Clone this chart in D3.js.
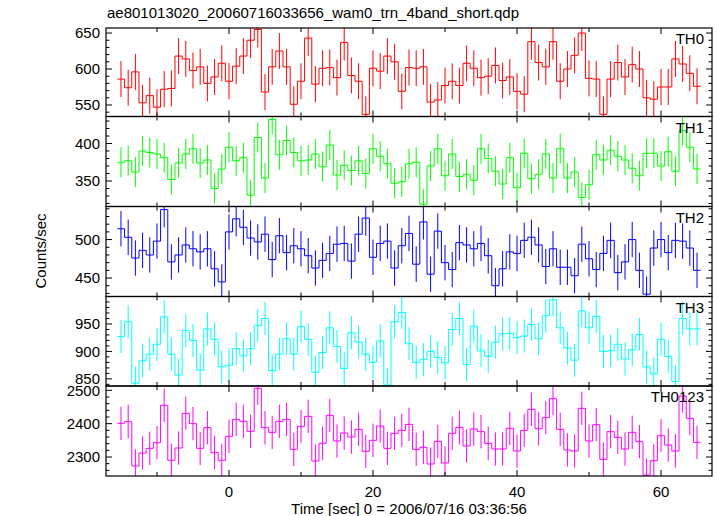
<!DOCTYPE html>
<html><head><meta charset="utf-8">
<script src="https://cdn.jsdelivr.net/npm/d3@7"></script>
<style>body{margin:0;background:#fff}svg{display:block}text{font-family:"Liberation Sans",Arial,Helvetica,sans-serif;fill:#000}</style>
</head><body><svg id="c" width="717" height="516"></svg>
<script>
// bin centre times (s), 1 s bins
const times = [-15,-14,-13,-12,-11,-10,-9,-8,-7,-6,-5,-4,-3,-2,-1,0,1,2,3,4,5,6,7,8,9,10,11,12,13,14,15,16,17,18,19,20,21,22,23,24,25,26,27,28,29,30,31,32,33,34,35,36,37,38,39,40,41,42,43,44,45,46,47,48,49,50,51,52,53,54,55,56,57,58,59,60,61,62,63,64,65];
const th0 = [586,574,596,553,563,547,572,573,618,614,
  598,603,580,589,608,583,604,618,640,655,
  568,603,625,603,551,583,643,579,601,602,
  588,637,591,583,537,601,597,618,610,569,
  602,601,603,554,557,577,583,577,608,601,
  588,590,605,584,589,569,565,638,609,603,
  638,583,600,619,650,587,586,537,586,609,
  589,606,600,560,558,575,575,614,607,594,
  576];
const th1 = [375,377,362,390,388,386,381,352,374,386,
  393,374,378,340,366,395,377,381,331,408,
  354,432,385,404,388,377,378,386,369,398,
  358,371,364,377,360,393,383,373,347,349,
  373,375,319,370,393,357,386,356,359,351,
  393,380,363,346,381,341,387,353,359,386,
  354,393,354,362,328,345,385,378,391,383,
  378,367,357,387,387,370,389,363,417,395,
  366];
const th2 = [514,503,476,486,480,498,539,471,480,493,
  488,484,488,462,445,510,527,516,502,497,
  507,474,505,483,492,488,479,463,473,482,
  494,495,472,507,528,477,495,498,463,492,
  508,468,523,455,511,470,461,496,493,488,
  495,479,440,462,484,482,499,503,493,465,
  488,464,464,453,494,475,461,482,499,457,
  471,500,460,429,489,500,483,499,498,489,
  460];
const th3 = [927,954,842,883,895,913,963,895,857,938,
  920,866,941,922,872,875,905,892,905,947,
  960,865,895,923,895,945,922,862,898,943,
  909,869,934,917,895,880,919,839,954,971,
  914,880,885,900,889,879,940,960,876,946,
  901,891,917,932,933,925,928,949,923,965,
  994,943,906,884,974,943,964,900,901,913,
  886,903,931,872,859,922,891,845,960,941,
  941];
const th0123 = [2401,2406,2273,2312,2326,2343,2455,2290,2327,2431,
  2400,2326,2388,2313,2290,2362,2413,2407,2377,2506,
  2388,2374,2407,2413,2323,2392,2422,2288,2341,2425,
  2348,2372,2360,2383,2317,2350,2393,2326,2371,2380,
  2398,2323,2329,2279,2347,2282,2371,2389,2333,2384,
  2376,2341,2324,2324,2386,2318,2380,2443,2385,2418,
  2475,2383,2321,2318,2446,2348,2397,2293,2376,2359,
  2324,2374,2346,2246,2289,2364,2336,2318,2483,2416,
  2344];
const bandNames = ["TH0","TH1","TH2","TH3","TH0123"];
const bandErrors = [25,20,23,30,50];
const yDomains = [[534,657],[316,436],[426,543],[837,1000],[2243,2513]];
const yTickLabels = [[550,600,650],[350,400],[450,500],[850,900,950],[2300,2400,2500]];
const yMinorSteps = [10,10,10,10,20];
const xTickLabels = [0,20,40,60];
const xMinorTicks = [-10,0,10,20,30,40,50,60];
const xDomain = [-17.08,67.08];
const titleText = "ae801013020_20060716033656_wam0_trn_4band_short.qdp";
const xTitle = "Time [sec] 0 = 2006/07/16 03:36:56";
const yTitle = "Counts/sec";

const series = [th0,th1,th2,th3,th0123];
const colors = ["#ff0000","#00ff00","#0000ff","#00ffff","#ff00ff"];

const svg = d3.select("#c");
const L = 106, R = 712;
const bounds = [28,116.5,206.5,296.5,386,476];
const x = d3.scaleLinear().domain(xDomain).range([L,R]);
const FS = 15;

svg.append("text").attr("x",107).attr("y",18).attr("font-size",FS).text(titleText);

series.forEach((vals,i)=>{
  const top = bounds[i], bot = bounds[i+1];
  const y = d3.scaleLinear().domain(yDomains[i]).range([bot,top]);
  const g = svg.append("g");
  const cid = "clip"+i;
  svg.append("clipPath").attr("id",cid).append("rect").attr("x",L).attr("y",top).attr("width",R-L).attr("height",bot-top);
  const pg = g.append("g").attr("clip-path",`url(#${cid})`);
  const e = bandErrors[i];
  pg.selectAll("line.err").data(times).join("line")
    .attr("x1",t=>x(t)).attr("x2",t=>x(t))
    .attr("y1",(t,k)=>y(vals[k]-e)).attr("y2",(t,k)=>y(vals[k]+e))
    .attr("stroke",colors[i]).attr("stroke-width",1);
  const pts = times.flatMap((t,k)=>[[t-0.5,vals[k]],[t+0.5,vals[k]]]);
  pg.append("path").attr("d",d3.line().x(d=>x(d[0])).y(d=>y(d[1]))(pts))
    .attr("fill","none").attr("stroke",colors[i]).attr("stroke-width",1);
  // frame
  g.append("rect").attr("x",L).attr("y",top).attr("width",R-L).attr("height",bot-top)
    .attr("fill","none").attr("stroke","#000").attr("stroke-width",1.2);
  // y ticks
  const step = yMinorSteps[i];
  const yt = d3.range(Math.ceil(yDomains[i][0]/step)*step, yDomains[i][1]+0.001, step);
  yt.forEach(v=>{
    const major = v % 50 === 0 && (i<4 || v%100===0);
    const len = major?6:3.5;
    const yy = y(v);
    g.append("line").attr("x1",L).attr("x2",L+len).attr("y1",yy).attr("y2",yy).attr("stroke","#000");
    g.append("line").attr("x1",R).attr("x2",R-len).attr("y1",yy).attr("y2",yy).attr("stroke","#000");
  });
  yTickLabels[i].forEach(v=>{
    g.append("text").attr("x",100).attr("y",y(v)).attr("dy","0.35em").attr("text-anchor","end").attr("font-size",FS).text(v);
  });
  // x ticks
  xMinorTicks.forEach(t=>{
    const len = t%20===0?6:4;
    g.append("line").attr("x1",x(t)).attr("x2",x(t)).attr("y1",top).attr("y2",top+len).attr("stroke","#000");
    g.append("line").attr("x1",x(t)).attr("x2",x(t)).attr("y1",bot).attr("y2",bot-len).attr("stroke","#000");
  });
  g.append("text").attr("x",704).attr("y",top+16).attr("text-anchor","end").attr("font-size",FS).text(bandNames[i]);
});

xTickLabels.forEach(t=>{
  svg.append("text").attr("x",x(t)).attr("y",497).attr("text-anchor","middle").attr("font-size",FS).text(t);
});
svg.append("text").attr("x",(L+R)/2).attr("y",514).attr("text-anchor","middle").attr("font-size",FS).text(xTitle);
svg.append("text").attr("transform","translate(46,251) rotate(-90)").attr("text-anchor","middle").attr("font-size",FS).text(yTitle);
</script></body></html>
